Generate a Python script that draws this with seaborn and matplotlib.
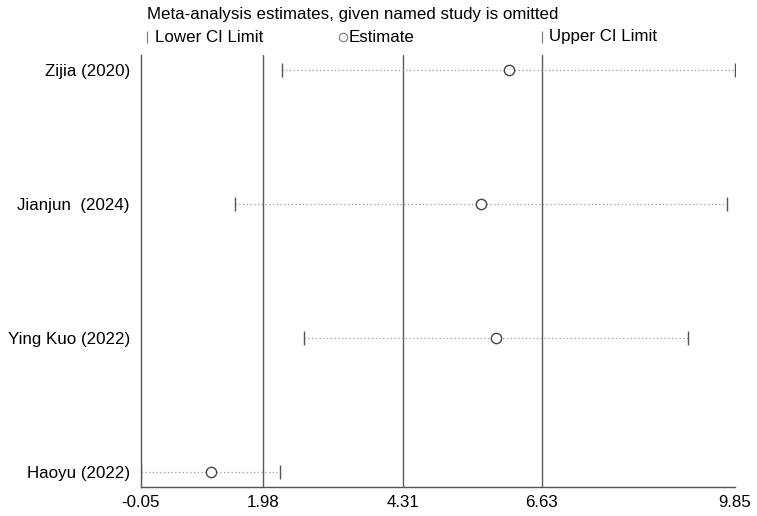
import matplotlib
matplotlib.use("Agg")
import matplotlib.pyplot as plt
from matplotlib.lines import Line2D
import seaborn as sns
import pandas as pd

# dados (metainf)
studies = ["Zijia (2020)", "Jianjun  (2024)", "Ying Kuo (2022)", "Haoyu (2022)"]
estimate = [6.08, 5.61, 5.87, 1.12]
lower_ci = [2.30, 1.51, 2.67, -0.05]
upper_ci = [9.85, 9.71, 9.07, 2.27]
overall = [1.98, 4.31, 6.63]
x_ticks = [-0.05, 1.98, 4.31, 6.63, 9.85]

sns.set_style("white")
plt.rcParams["font.family"] = ["Liberation Sans", "DejaVu Sans"]
plt.rcParams["text.color"] = "black"
plt.rcParams["xtick.labelcolor"] = "black"
plt.rcParams["ytick.labelcolor"] = "black"
FS = 12.2

df = pd.DataFrame({"study": studies, "est": estimate, "lo": lower_ci, "hi": upper_ci})
df["pos"] = range(1, len(df) + 1)

fig = plt.figure(figsize=(7.57, 5.16), dpi=100)
ax = fig.add_axes([141 / 757, 1 - 487 / 516, (735 - 141) / 757, (487 - 55) / 516])

# linhas verticais do estimador global e IC
for v in overall:
    ax.axvline(v, color="#5a5a5a", lw=1.0, zorder=1)

ax.hlines(df["pos"], df["lo"], df["hi"], colors="#9a9a9a", linestyles=(0, (1, 2)), lw=0.9, zorder=2)
sns.scatterplot(data=df, x="lo", y="pos", marker="|", s=95, color="#555555", linewidth=1.0, ax=ax, zorder=3)
sns.scatterplot(data=df, x="hi", y="pos", marker="|", s=95, color="#555555", linewidth=1.0, ax=ax, zorder=3)
sns.scatterplot(data=df, x="est", y="pos", marker="o", s=55, facecolor="white", edgecolor="#444444",
                linewidth=1.0, ax=ax, zorder=4)

ax.set_xlim(x_ticks[0], x_ticks[-1])
ax.set_ylim(4.112, 0.888)
ax.set_xticks(x_ticks)
ax.set_xticklabels([f"{t:.2f}" for t in x_ticks])
ax.set_yticks(df["pos"])
ax.set_yticklabels(df["study"])
ax.set_xlabel("")
ax.set_ylabel("")
ax.tick_params(axis="x", length=5, width=1, color="#666666", labelsize=FS, pad=1)
ax.tick_params(axis="y", length=0, labelsize=FS, pad=8)
for s in ["top", "right"]:
    ax.spines[s].set_visible(False)
for s in ["left", "bottom"]:
    ax.spines[s].set_color("#555555")
    ax.spines[s].set_linewidth(1.0)

# legenda manual no estilo do Stata
fig.text(147 / 757, 1 - 14 / 516, "Meta-analysis estimates, given named study is omitted",
         fontsize=FS, va="center", ha="left")
leg_y = 1 - 37 / 516
entries = [(147, "|", "Lower CI Limit", 155), (343, "o", "Estimate", 349), (542, "|", "Upper CI Limit", 549)]
for px, mk, lab, tx in entries:
    fig.add_artist(Line2D([px / 757], [leg_y], marker=mk, markersize=8 if mk == "|" else 6,
                          markerfacecolor="white", markeredgecolor="#777777", markeredgewidth=0.8,
                          linestyle="none", transform=fig.transFigure))
    fig.text(tx / 757, leg_y, lab, fontsize=FS, va="center", ha="left")

fig.savefig("out.png", dpi=100)
